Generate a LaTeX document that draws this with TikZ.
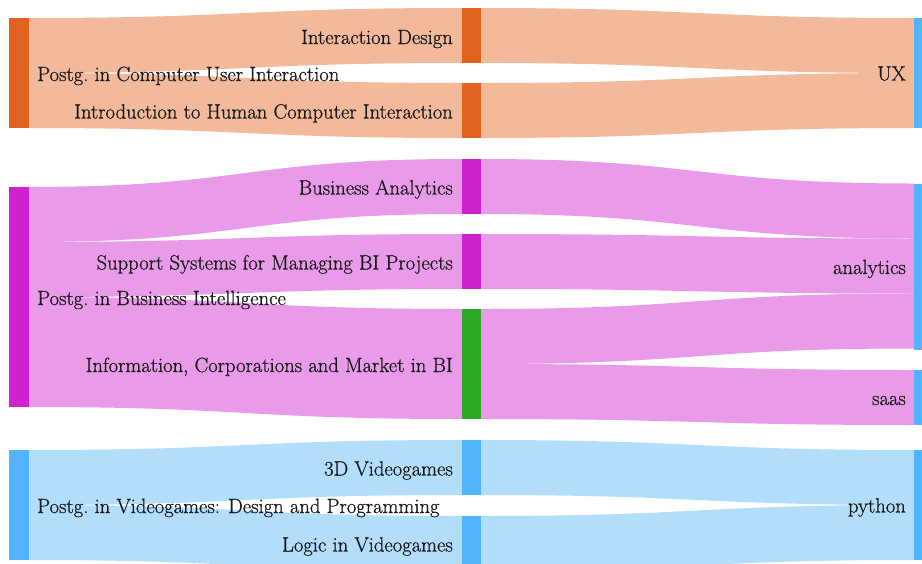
\documentclass[tikz,border=0pt]{standalone}
\usepackage{fontspec}
\newfontfamily\lblfont{Latin Modern Roman}[FakeBold=0.7]
\usetikzlibrary{calc}
\definecolor{nodeor}{RGB}{226,99,32}
\definecolor{linkor}{RGB}{242,185,155}
\definecolor{nodemg}{RGB}{206,34,206}
\definecolor{linkmg}{RGB}{233,155,233}
\definecolor{nodegr}{RGB}{44,168,36}
\definecolor{nodebl}{RGB}{82,180,255}
\definecolor{linkbl}{RGB}{178,222,252}
\definecolor{txt}{RGB}{25,25,25}
\newcommand\sband[6]{%
  \coordinate (s1) at ($(#1.north east)+(0,#2)$);
  \coordinate (t1) at ($(#3.north west)+(0,#4)$);
  \coordinate (s2) at ($(s1)+(0,#5)$);
  \coordinate (t2) at ($(t1)+(0,#5)$);
  \coordinate (mm) at ($(s1)!0.5!(t1)$);
  \fill[#6] (s1) .. controls (mm |- s1) and (mm |- t1) .. (t1) -- (t2)
    .. controls (mm |- t2) and (mm |- s2) .. (s2) -- cycle;}
\begin{document}
\begin{tikzpicture}[x=1pt,y=-1pt,
  bar/.style={rectangle,inner sep=0pt,outer sep=0pt,draw=none,minimum width=20},
  mbar/.style={bar,minimum width=19},
  lbl/.style={inner sep=0pt,text=txt,font=\lblfont\fontsize{20.6}{24}\selectfont},
]
\clip (0,0) rectangle (922,563);
\fill[white] (0,0) rectangle (922,563);
% nodes (positions)
\path
  node[bar,minimum height=110] (L1) at (19,73) {}
  node[bar,minimum height=220] (L2) at (19,297) {}
  node[bar,minimum height=110] (L3) at (19,505) {}
  node[mbar,minimum height=55] (M1) at (471.5,35.5) {}
  node[mbar,minimum height=55] (M2) at (471.5,110.5) {}
  node[mbar,minimum height=55] (M3) at (471.5,186.5) {}
  node[mbar,minimum height=55] (M4) at (471.5,261.5) {}
  node[mbar,minimum height=110] (M5) at (471.5,364) {}
  node[mbar,minimum height=55] (M6) at (471.5,467.5) {}
  node[mbar,minimum height=55] (M7) at (471.5,543.5) {}
  node[bar,minimum height=110] (R1) at (924,73) {}
  node[bar,minimum height=166] (R2) at (924,266.5) {}
  node[bar,minimum height=55] (R3) at (924,397.5) {}
  node[bar,minimum height=110] (R4) at (924,505) {};
% links
\sband{L1}{0}{M1}{0}{55}{linkor}
\sband{L1}{55}{M2}{0}{55}{linkor}
\sband{M1}{0}{R1}{0}{55}{linkor}
\sband{M2}{0}{R1}{55}{55}{linkor}
\sband{L2}{0}{M3}{0}{55}{linkmg}
\sband{L2}{55}{M4}{0}{55}{linkmg}
\sband{L2}{110}{M5}{0}{110}{linkmg}
\sband{M3}{0}{R2}{0}{55}{linkmg}
\sband{M4}{0}{R2}{55}{55}{linkmg}
\sband{M5}{0}{R2}{110}{55}{linkmg}
\sband{M5}{55}{R3}{0}{55}{linkmg}
\sband{L3}{0}{M6}{0}{55}{linkbl}
\sband{L3}{55}{M7}{0}{55}{linkbl}
\sband{M6}{0}{R4}{0}{55}{linkbl}
\sband{M7}{0}{R4}{55}{55}{linkbl}
% node fills on top
\fill[nodeor] (L1.north west) rectangle (L1.south east);
\fill[nodemg] (L2.north west) rectangle (L2.south east);
\fill[nodebl] (L3.north west) rectangle (L3.south east);
\fill[nodeor] (M1.north west) rectangle (M1.south east);
\fill[nodeor] (M2.north west) rectangle (M2.south east);
\fill[nodemg] (M3.north west) rectangle (M3.south east);
\fill[nodemg] (M4.north west) rectangle (M4.south east);
\fill[nodegr] (M5.north west) rectangle (M5.south east);
\fill[nodebl] (M6.north west) rectangle (M6.south east);
\fill[nodebl] (M7.north west) rectangle (M7.south east);
\fill[nodebl] (R1.north west) rectangle (R1.south east);
\fill[nodebl] (R2.north west) rectangle (R2.south east);
\fill[nodebl] (R3.north west) rectangle (R3.south east);
\fill[nodebl] (R4.north west) rectangle (R4.south east);
% labels
\node[lbl,anchor=base west] (tL1) at ($(L1.east)+(8,8)$) {Postg.\ in Computer User Interaction};
\node[lbl,anchor=base west] (tL2) at ($(L2.east)+(8,8)$) {Postg.\ in Business Intelligence};
\node[lbl,anchor=base west] (tL3) at ($(L3.east)+(8,8)$) {Postg.\ in Videogames: Design and Programming};
\node[lbl,anchor=base east] (tM1) at ($(M1.west)+(-9,8.5)$) {Interaction Design};
\node[lbl,anchor=base east] (tM2) at ($(M2.west)+(-9,8)$) {Introduction to Human Computer Interaction};
\node[lbl,anchor=base east] (tM3) at ($(M3.west)+(-9,8)$) {Business Analytics};
\node[lbl,anchor=base east] (tM4) at ($(M4.west)+(-9,8)$) {Support Systems for Managing BI Projects};
\node[lbl,anchor=base east] (tM5) at ($(M5.west)+(-9,8)$) {Information, Corporations and Market in BI};
\node[lbl,anchor=base east] (tM6) at ($(M6.west)+(-9,8)$) {3D Videogames};
\node[lbl,anchor=base east] (tM7) at ($(M7.west)+(-9,8)$) {Logic in Videogames};
\node[lbl,anchor=base east] (tR1) at ($(R1.west)+(-8,7.5)$) {UX};
\node[lbl,anchor=base east] (tR2) at ($(R2.west)+(-8,7.5)$) {analytics};
\node[lbl,anchor=base east] (tR3) at ($(R3.west)+(-8,7.5)$) {saas};
\node[lbl,anchor=base east] (tR4) at ($(R4.west)+(-8,7.5)$) {python};
\end{tikzpicture}
\end{document}
